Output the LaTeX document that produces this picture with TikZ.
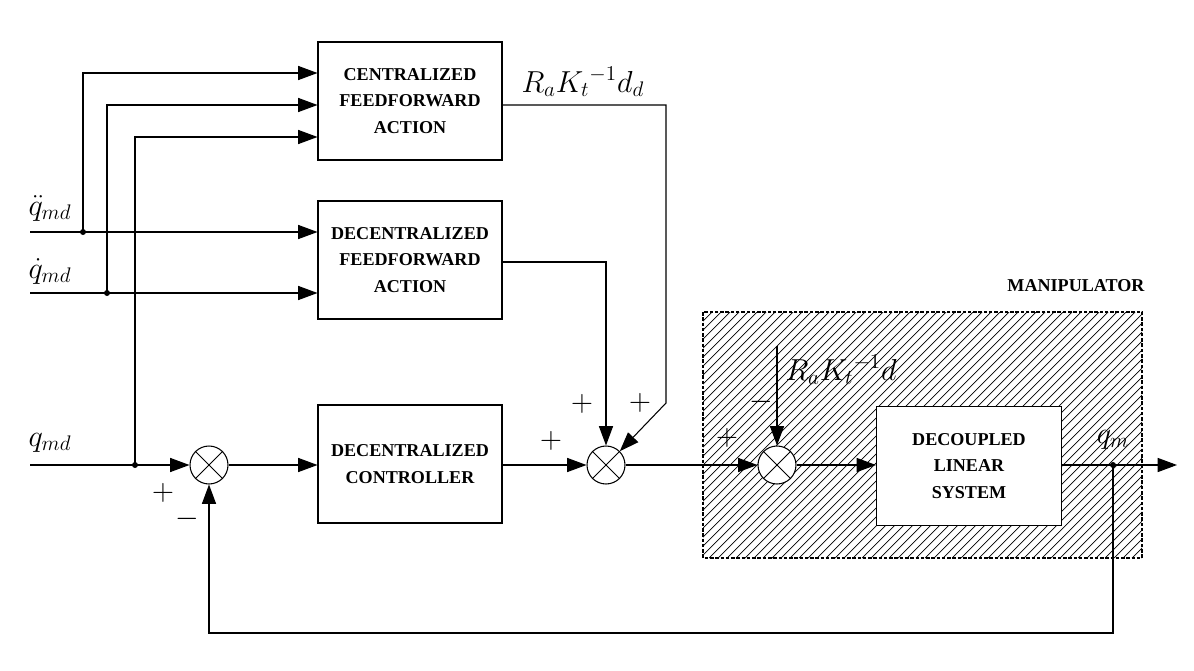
\documentclass[tikz,border=0pt]{standalone}
\usepackage{amsmath}
\usepackage{fontspec}
\newfontfamily\blkfont{Liberation Serif}
\usetikzlibrary{arrows.meta,calc}
\begin{document}
\begin{tikzpicture}[x=0.02cm,y=-0.02cm,
  line width=0.6pt,
  arr/.style={-{Triangle[length=11pt,width=8pt]}},
  blk/.style={draw,fill=white,minimum width=3.68cm,minimum height=2.36cm,align=center,
    font=\blkfont\bfseries\fontsize{10.3}{15.3}\selectfont},
  sumn/.style={draw,fill=white,circle,minimum size=0.76cm,inner sep=0pt},
  dot/.style={circle,fill=black,inner sep=0pt,minimum size=0.12cm},
  sgn/.style={font=\LARGE,inner sep=0pt},
  lbl/.style={font=\fontsize{16.5}{19}\selectfont,inner sep=0pt},
  hatch/.style={line width=0.4pt}]
\useasboundingbox (0,0) rectangle (1194,670);
% manipulator region
\begin{scope}
  \clip (703,312) rectangle (1142,558);
  \foreach \hx in {457,466,...,1142}{
    \draw[hatch] (\hx,558) -- ++(246,-246);
  }
\end{scope}
\draw[dashed,dash pattern=on 2pt off 1pt] (703,312) rectangle (1142,558);
\node[font=\blkfont\bfseries\fontsize{10.3}{12}\selectfont] (manl) at (1076,286) {MANIPULATOR};
% blocks
\node[blk] (cff) at (410,101) {CENTRALIZED\\FEEDFORWARD\\ACTION};
\node[blk] (dff) at (410,260) {DECENTRALIZED\\FEEDFORWARD\\ACTION};
\node[blk] (dc) at (410,464) {DECENTRALIZED\\CONTROLLER};
\node[blk,minimum width=3.70cm,minimum height=2.38cm] (dls) at (969,466) {DECOUPLED\\LINEAR\\SYSTEM};
% summing junctions
\node[sumn] (s1) at (209,465) {};
\node[sumn] (s2) at (606,465) {};
\node[sumn] (s3) at (777,465) {};
\foreach \s in {s1,s2,s3}{
  \draw[line width=0.5pt] (\s.north east) -- (\s.south west);
  \draw[line width=0.5pt] (\s.north west) -- (\s.south east);
}
% inputs
\coordinate (in1) at (30,232);
\coordinate (in2) at (30,293);
\coordinate (in3) at (30,465);
\node[dot] (j1) at (83,232) {};
\node[dot] (j2) at (107,293) {};
\node[dot] (j3) at (135,465) {};
\node[lbl,anchor=base west] (l1) at (28,215) {$\ddot{q}_{md}$};
\node[lbl,anchor=base west] (l2) at (28,278) {$\dot{q}_{md}$};
\node[lbl,anchor=base west] (l3) at (28,446) {$q_{md}$};
\draw[arr] (in1) -- (dff.west|-in1);
\draw[arr] (in2) -- (dff.west|-in2);
\draw[arr] (in3) -- (s1.west);
\draw[arr] (j1.center) |- ([yshift=0.56cm]cff.west);
\draw[arr] (j2.center) |- ([yshift=-0.08cm]cff.west);
\draw[arr] (j3.center) |- ([yshift=-0.72cm]cff.west);
% forward path
\draw[arr] (s1.east) -- (dc.west|-s1);
\draw[arr] (dc.east|-s2) -- (s2.west);
\draw[arr] (s2.east) -- (s3.west);
\draw[arr] (s3.east) -- (dls.west|-s3);
% feedforward outputs
\coordinate (k1) at (666,105);
\coordinate (k2) at (666,403);
\draw[arr] (cff.east|-k1) -- (k1) -- (k2) -- (s2.north east);
\coordinate (k3) at (606,262);
\draw[arr] (dff.east|-k3) -- (k3) -- (s2.north);
\node[lbl,anchor=base west] (ffl) at (521,92) {$R_aK_t{}^{-1}d_d$};
% disturbance
\coordinate (d0) at (777,346);
\draw[arr] (d0) -- (s3.north);
\node[lbl,anchor=base west] (dl) at (785,380) {$R_aK_t{}^{-1}d$};
% output and feedback
\coordinate (out) at (1177,465);
\node[dot] (j4) at (1113,465) {};
\draw[arr] (dls.east|-s3) -- (out);
\coordinate (f1) at (1113,633);
\draw[arr] (j4.center) -- (f1) -| (s1.south);
\node[lbl,anchor=base] (qm) at (1113,443) {$q_m$};
% signs
\node[sgn] (p1) at (163,493) {$+$};
\node[sgn] (m1) at (187,519) {$-$};
\node[sgn] (p2) at (551,441) {$+$};
\node[sgn] (p3) at (582,404) {$+$};
\node[sgn] (p4) at (640,403) {$+$};
\node[sgn] (p5) at (727,438) {$+$};
\node[sgn] (m3) at (761,402) {$-$};
\end{tikzpicture}
\end{document}
